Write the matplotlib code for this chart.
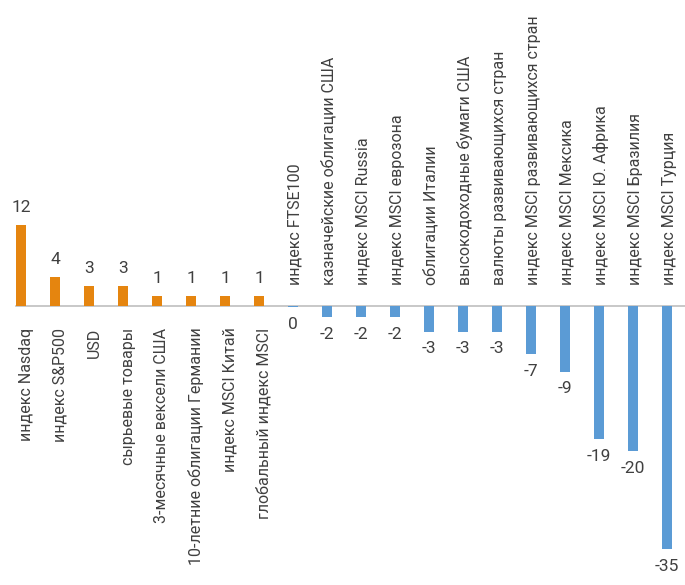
import matplotlib
matplotlib.use("Agg")
import matplotlib.pyplot as plt

categories = [
    "индекс Nasdaq", "индекс S&P500", "USD", "сырьевые товары",
    "3-месячные вексели США", "10-летние облигации Германии",
    "индекс MSCI Китай", "глобальный индекс MSCI",
    "индекс FTSE100", "казначейские облигации США", "индекс MSCI Russia",
    "индекс MSCI еврозона", "облигации Италии", "высокодоходные бумаги США",
    "валюты развивающихся стран", "индекс MSCI развивающихся стран",
    "индекс MSCI Мексика", "индекс MSCI Ю. Африка", "индекс MSCI Бразилия",
    "индекс MSCI Турция",
]
values = [11.8, 4.2, 2.9, 2.9, 1.5, 1.5, 1.5, 1.5,
          -0.2, -1.6, -1.6, -1.6, -3.7, -3.7, -3.7, -7.0, -9.5, -19.3, -21.0, -35.2]
value_labels = ["12", "4", "3", "3", "1", "1", "1", "1",
                "0", "-2", "-2", "-2", "-3", "-3", "-3", "-7", "-9", "-19", "-20", "-35"]

ORANGE = "#E5850F"
BLUE = "#5B9BD5"
TEXT = "#404040"

fig = plt.figure(figsize=(6.85, 5.85), dpi=100)
ax = fig.add_axes([0, 0, 1, 1])
x = list(range(len(values)))
colors = [ORANGE if v > 0 else BLUE for v in values]
ax.bar(x, values, width=0.32, color=colors, zorder=2)

ax.set_xlim(-21 / 34, (685 - 21) / 34)
ax.set_ylim(-(585 - 306) / 6.9, 306 / 6.9)
ax.axis("off")
ax.plot([-0.15, 19.6], [0, 0], color="#BFBFBF", lw=1.2, zorder=1)

for xi, v, lab, cat in zip(x, values, value_labels, categories):
    if v > 0:
        ax.annotate(lab, (xi, v), xytext=(0, 7), textcoords="offset points",
                    ha="center", va="bottom", fontsize=12.5, color=TEXT,
                    family="Roboto")
        ax.annotate(cat, (xi, 0), xytext=(3.6, -15.5), textcoords="offset points",
                    ha="center", va="top", rotation=90, fontsize=11.5,
                    color=TEXT, family="Roboto")
    else:
        ax.annotate(lab, (xi, v), xytext=(0, -7), textcoords="offset points",
                    ha="center", va="top", fontsize=12.5, color=TEXT,
                    family="Roboto")
        ax.annotate(cat, (xi, 0), xytext=(1.5, 15), textcoords="offset points",
                    ha="center", va="bottom", rotation=90, fontsize=11.5,
                    color=TEXT, family="Roboto")

fig.savefig("out.png", dpi=100)
